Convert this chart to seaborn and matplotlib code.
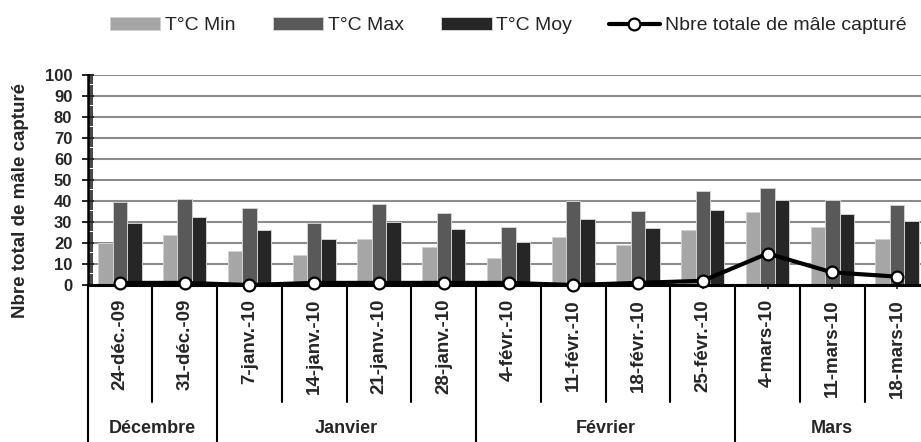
import matplotlib
matplotlib.use("Agg")
import matplotlib.pyplot as plt
import matplotlib.transforms as mtransforms
from matplotlib.ticker import MultipleLocator
import pandas as pd
import seaborn as sns

dates = ["24-déc.-09", "31-déc.-09", "7-janv.-10", "14-janv.-10", "21-janv.-10",
         "28-janv.-10", "4-févr.-10", "11-févr.-10", "18-févr.-10", "25-févr.-10",
         "4-mars-10", "11-mars-10", "18-mars-10"]
months = ["Décembre", "Janvier", "Février", "Mars"]
month_sizes = [2, 4, 4, 3]

t_min = [20, 24, 16, 14.5, 21.7, 18, 12.9, 22.7, 19.2, 26.3, 34.6, 27.6, 22]
t_max = [39.5, 41, 36.5, 29.5, 38.6, 34.3, 27.6, 40, 35.2, 44.9, 46.2, 40.3, 38.2]
t_moy = [29.7, 32.5, 26, 22, 30, 26.5, 20.3, 31.3, 27, 35.6, 40.3, 34, 30.3]
males = [1, 1, 0, 1, 1, 1, 1, 0, 1, 2, 15, 6, 4]

series = ["T°C Min", "T°C Max", "T°C Moy"]
colors = ["#a6a6a6", "#595959", "#262626"]

rows = []
for name, vals in zip(series, [t_min, t_max, t_moy]):
    for d, v in zip(dates, vals):
        rows.append({"date": d, "serie": name, "val": v})
df = pd.DataFrame(rows)

sns.set_style("white")
plt.rcParams["font.family"] = ["Liberation Sans", "DejaVu Sans"]

W, H = 921, 442
fig = plt.figure(figsize=(W / 100, H / 100), dpi=100)
ax = fig.add_axes([87.6 / W, (H - 285) / H, 841.8 / W, 210 / H])

sns.barplot(data=df, x="date", y="val", hue="serie", order=dates, hue_order=series,
            palette=colors, saturation=1, width=0.67, errorbar=None,
            edgecolor="#d0d0d0", linewidth=0.7, ax=ax, zorder=2)

ax.plot(range(len(dates)), males, color="black", lw=3, marker="o", markersize=8.5,
        markerfacecolor="white", markeredgecolor="black", markeredgewidth=1.6,
        label="Nbre totale de mâle capturé", zorder=5, clip_on=False)

ax.set_ylim(0, 100)
ax.set_xlim(-0.5, len(dates) - 0.5)
ax.yaxis.set_major_locator(MultipleLocator(10))
ax.yaxis.set_minor_locator(MultipleLocator(1))
ax.grid(axis="y", color="#8c8c8c", lw=1.5, zorder=0)
ax.set_axisbelow(True)

for side in ["top", "right"]:
    ax.spines[side].set_visible(False)
ax.spines["left"].set_linewidth(1.8)
ax.spines["bottom"].set_linewidth(2.2)
ax.spines["left"].set_color("black")
ax.spines["bottom"].set_color("black")

ax.tick_params(axis="y", which="major", direction="inout", length=8, width=1.4,
               labelsize=12, pad=7, left=True)
ax.tick_params(axis="y", which="minor", direction="in", length=3.5, width=1.2, left=True)
ax.tick_params(axis="x", which="major", direction="out", length=3, width=1.2,
               labelsize=13.5, pad=7, bottom=True)
for lab in ax.get_yticklabels():
    lab.set_fontweight("bold")
ax.set_xticks(range(len(dates)))
ax.set_xticklabels(dates, rotation=90, fontweight="bold")
ax.set_xlabel("")
ax.set_ylabel("")
fig.text(21 / W, 1 - 201 / H, "Nbre total de mâle capturé", rotation=90,
         ha="center", va="center", fontsize=13.5, fontweight="bold")

# multi-level category axis
tr = mtransforms.blended_transform_factory(ax.transData, ax.transAxes)
bounds = [-0.5]
for s in month_sizes:
    bounds.append(bounds[-1] + s)
for i in range(len(dates) + 1):
    x = i - 0.5
    y_end = -0.76 if x in bounds else -0.557
    ax.plot([x, x], [0, y_end], color="black", lw=1.5, transform=tr, clip_on=False)
for m, a, b in zip(months, bounds[:-1], bounds[1:]):
    ax.text((a + b) / 2, -0.681, m, transform=tr, ha="center", va="center",
            fontsize=13, fontweight="bold")

handles, labels = ax.get_legend_handles_labels()
if ax.get_legend() is not None:
    ax.get_legend().remove()
fig.legend(handles, labels, loc="center", bbox_to_anchor=(508 / W, 1 - 25.5 / H),
           ncol=4, frameon=False, fontsize=14, handlelength=2.6, handleheight=0.66,
           handletextpad=0.25, columnspacing=1.9, borderaxespad=0)

fig.savefig("out.png", dpi=100)
